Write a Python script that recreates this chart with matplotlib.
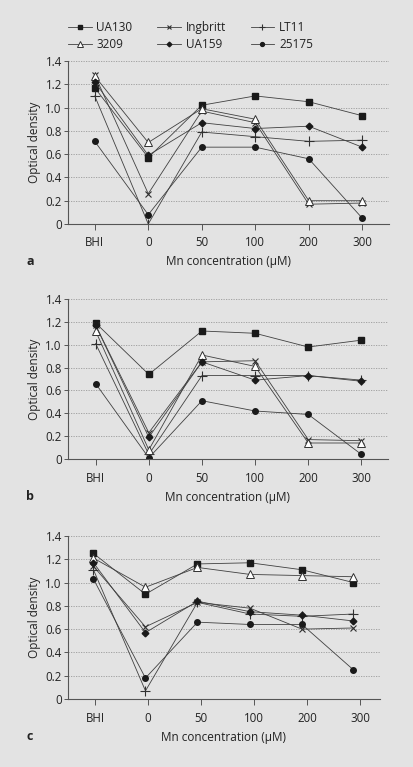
import numpy as np
import matplotlib
matplotlib.use("Agg")
import matplotlib.pyplot as plt
from matplotlib.ticker import FixedLocator, FuncFormatter

plt.rcParams["font.family"] = ["Open Sans", "DejaVu Sans"]

categories = ["BHI", "0", "50", "100", "200", "300"]
strains = ["UA130", "Ingbritt", "LT11", "3209", "UA159", "25175"]

# panel a
a_ua130 = [1.17, 0.57, 1.02, 1.10, 1.05, 0.93]
a_ingbritt = [1.28, 0.26, 0.97, 0.87, 0.17, 0.18]
a_lt11 = [1.10, 0.00, 0.79, 0.75, 0.71, 0.72]
a_3209 = [1.27, 0.70, 0.99, 0.90, 0.20, 0.20]
a_ua159 = [1.22, 0.59, 0.87, 0.82, 0.84, 0.66]
a_25175 = [0.71, 0.08, 0.66, 0.66, 0.56, 0.05]

# panel b
b_ua130 = [1.19, 0.74, 1.12, 1.10, 0.98, 1.04]
b_ingbritt = [1.17, 0.23, 0.85, 0.86, 0.17, 0.16]
b_lt11 = [1.01, 0.04, 0.73, 0.73, 0.73, 0.69]
b_3209 = [1.12, 0.08, 0.91, 0.81, 0.14, 0.14]
b_ua159 = [1.17, 0.19, 0.85, 0.69, 0.73, 0.68]
b_25175 = [0.66, 0.01, 0.51, 0.42, 0.39, 0.04]

# panel c (points sit a little left of the ticks in the original)
xpos_c = [-0.03, 0.95, 1.93, 2.92, 3.90, 4.87]
c_ua130 = [1.25, 0.90, 1.16, 1.17, 1.11, 1.00]
c_ingbritt = [1.14, 0.62, 0.83, 0.78, 0.60, 0.61]
c_lt11 = [1.11, 0.07, 0.83, 0.73, 0.71, 0.73]
c_3209 = [1.21, 0.96, 1.13, 1.07, 1.06, 1.05]
c_ua159 = [1.17, 0.57, 0.84, 0.75, 0.72, 0.67]
c_25175 = [1.03, 0.18, 0.66, 0.64, 0.64, 0.25]

BG = "#e3e3e3"
LINE = "#404040"
styles = {
    "UA130": dict(marker="s", ms=4.0, mfc="#1a1a1a", mec="#1a1a1a"),
    "Ingbritt": dict(marker="x", ms=5.0, mfc="none", mec="#303030", mew=0.8),
    "LT11": dict(marker="+", ms=6.5, mfc="none", mec="#303030", mew=0.8),
    "3209": dict(marker="^", ms=5.5, mfc="white", mec="#303030", mew=0.7),
    "UA159": dict(marker="D", ms=3.4, mfc="#1a1a1a", mec="#1a1a1a"),
    "25175": dict(marker="o", ms=4.0, mfc="#1a1a1a", mec="#1a1a1a"),
}

fig = plt.figure(figsize=(4.14, 7.67), dpi=100, facecolor=BG)
W, H = 414, 767


def panel(rect, x, series, xlim, letter, label_y):
    l, t, r, b = rect
    ax = fig.add_axes([l / W, 1 - b / H, (r - l) / W, (b - t) / H])
    ax.set_facecolor(BG)
    handles = []
    for name, vals in zip(strains, series):
        h, = ax.plot(x, vals, color=LINE, lw=0.6, **styles[name])
        handles.append(h)
    ax.set_xlim(*xlim)
    ax.set_ylim(0, 1.4)
    ax.xaxis.set_major_locator(FixedLocator(range(len(categories))))
    ax.set_xticklabels(categories)
    ax.set_yticks(np.arange(0, 1.41, 0.2))
    ax.yaxis.set_major_formatter(FuncFormatter(lambda v, p: "0" if v < 0.01 else f"{v:.1f}"))
    for yv in np.arange(0.2, 1.41, 0.2):
        ax.axhline(yv, color="#9a9a9a", lw=0.6, ls=(0, (1.5, 1.5)), zorder=0)
    for s in ["top", "right"]:
        ax.spines[s].set_visible(False)
    for s in ["left", "bottom"]:
        ax.spines[s].set_color("#555555")
        ax.spines[s].set_linewidth(0.8)
    ax.tick_params(axis="x", length=4.5, width=0.7, color="#555555", pad=4.5, labelsize=8.3, labelcolor="#222222")
    ax.tick_params(axis="y", length=3, width=0.7, color="#555555", pad=1.5, labelsize=8.3, labelcolor="#222222")
    ax.set_ylabel("Optical density", fontsize=8.5, color="#222222", labelpad=3)
    fig.text((l + r) / 2 / W, 1 - label_y / H, "Mn concentration (μM)", ha="center", va="center",
             fontsize=8.5, color="#222222")
    fig.text(30 / W, 1 - label_y / H, letter, ha="center", va="center", fontsize=9,
             fontweight="bold", color="#222222")
    return ax, handles


ax_a, hs = panel((68, 61, 389, 224), range(6),
                 [a_ua130, a_ingbritt, a_lt11, a_3209, a_ua159, a_25175], (-0.5, 5.5), "a", 262)
panel((68, 299, 388, 459), range(6),
      [b_ua130, b_ingbritt, b_lt11, b_3209, b_ua159, b_25175], (-0.52, 5.5), "b", 497)
panel((68, 536, 380, 699), xpos_c,
      [c_ua130, c_ingbritt, c_lt11, c_3209, c_ua159, c_25175], (-0.51, 5.37), "c", 737)

# legend: 3 columns, filled column by column
order = [0, 3, 1, 4, 2, 5]
fig.legend([hs[i] for i in order], [strains[i] for i in order], ncol=3,
           loc="upper left", bbox_to_anchor=(68 / W, 1 - 21 / H), frameon=False,
           borderpad=0, borderaxespad=0, handlelength=2.0, handletextpad=0.4,
           columnspacing=2.1, labelspacing=0.35, fontsize=8.5, labelcolor="#222222",
           markerscale=0.7)

fig.savefig("out.png", dpi=100, facecolor=BG)
